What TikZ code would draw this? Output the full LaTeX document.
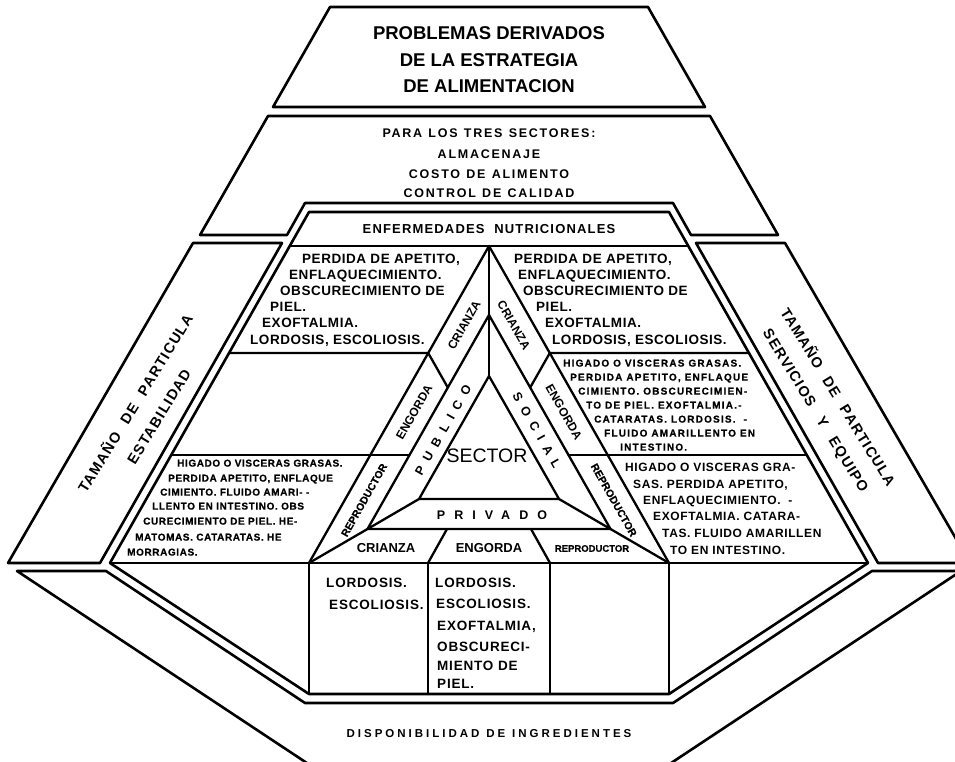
\documentclass[tikz,border=0pt]{standalone}
\usepackage{fontspec}
\setmainfont{Liberation Sans}
% wider gaps between words
\newcommand\wsp[1]{\spaceskip #1\relax}
\newcommand\gap{\hspace{12pt}}
\tikzset{
  panel/.style={draw=black, line width=2.6pt, line join=round},
  rule/.style={draw=black, line width=2.3pt, line cap=round, line join=round},
  lbl/.style={inner sep=0pt, text depth=0pt},
  ttl/.style={lbl, text height=13.4pt, font=\bfseries\fontsize{18.5}{20}\selectfont},
  hdr/.style={lbl, text height=9pt, font=\bfseries\fontsize{12.5}{14}\selectfont\addfontfeatures{LetterSpace=14}\wsp{0.5em}},
  big/.style={lbl, anchor=west, text height=9.6pt, font=\bfseries\fontsize{13.5}{15}\selectfont\addfontfeatures{LetterSpace=4}},
  midtxt/.style={lbl, anchor=west, text height=8.6pt, font=\bfseries\fontsize{12}{14}\selectfont\addfontfeatures{LetterSpace=5}},
  smallR/.style={lbl, anchor=west, text height=7.2pt, font=\bfseries\fontsize{10}{12}\selectfont\addfontfeatures{LetterSpace=12,FakeBold=0.6}},
  smallL/.style={lbl, anchor=west, text height=7.2pt, font=\bfseries\fontsize{10}{12}\selectfont\addfontfeatures{LetterSpace=6,FakeBold=0.6}},
  boxtxt/.style={lbl, anchor=west, text height=9.6pt, font=\bfseries\fontsize{13.5}{15}\selectfont\addfontfeatures{LetterSpace=6}},
  bandtxt/.style={lbl, text height=8.6pt, font=\bfseries\fontsize{12}{14}\selectfont},
  reprotxt/.style={lbl, text height=7.5pt, font=\bfseries\fontsize{10.5}{12}\selectfont\addfontfeatures{FakeBold=0.6}},
  spaced/.style={lbl, text height=9pt, font=\bfseries\fontsize{12.5}{14}\selectfont\addfontfeatures{LetterSpace=60}},
  sidetxt/.style={lbl, text height=10.4pt, font=\bfseries\fontsize{14.5}{16}\selectfont\addfontfeatures{LetterSpace=8}},
}
\begin{document}
\begin{tikzpicture}[x=1pt,y=-1pt]
\useasboundingbox (0,0) rectangle (955,761);
\fill[white] (0,0) rectangle (955,761);
\clip (0,0) rectangle (955,761);

% ---------- outer panels ----------
\draw[panel] (330,7) -- (648,7) -- (705,107) -- (273,107) -- cycle;
\draw[panel] (268,116) -- (710,116) -- (778,235) -- (691,235) -- (673,203)
  -- (305,203) -- (287,235) -- (200,235) -- cycle;
\draw[panel] (193,243) -- (282,243) -- (100,563) -- (8,563) -- cycle;
\draw[panel] (785,243) -- (696,243) -- (878,563) -- (970,563) -- cycle;
\draw[panel] (17,571) -- (106,571) -- (305,703) -- (673,703) -- (872,571)
  -- (961,571) -- (653,775) -- (325,775) -- cycle;

% ---------- central hexagon ----------
\draw[panel] (309,212) -- (669,212) -- (868,563) -- (669,694) -- (309,694)
  -- (110,563) -- cycle;

% key points of the nested triangles
\coordinate (A0) at (489,246);
\coordinate (A1) at (489,315);
\coordinate (A2) at (489,376);
\coordinate (OL) at (309,563);
\coordinate (OR) at (669,563);
\coordinate (ML) at (367.5,529);
\coordinate (MR) at (610.5,529);
\coordinate (IL) at (419,499);
\coordinate (IR) at (559,499);

\draw[rule] (290,246) -- (688,246);
\draw[rule] (110,563) -- (868,563);
\draw[rule] (OL) -- (A0) -- (OR);
\draw[rule] (A0) -- (A2);
\draw[rule] (ML) -- (A1) -- (MR) -- cycle;
\draw[rule] (IL) -- (A2) -- (IR) -- cycle;
\draw[rule] (OL) -- (ML) -- (IL);
\draw[rule] (OR) -- (MR) -- (IR);
\draw[rule] (428,563) -- (447,529);
\draw[rule] (550,563) -- (531,529);
% cell divisions
\draw[rule] (229,353) -- (428.2,353) -- (447.8,387.5);
\draw[rule] (749,353) -- (549.8,353) -- (530.2,387.5);
\draw[rule] (171.2,455) -- (409.5,455);
\draw[rule] (806.8,455) -- (568.5,455);
% lower box columns
\draw[rule] (309,563) -- (309,694);
\draw[rule] (428,563) -- (428,694);
\draw[rule] (550,563) -- (550,694);
\draw[rule] (669,563) -- (669,694);

% ---------- titles ----------
\node[ttl] (ta) at (489,33) {PROBLEMAS DERIVADOS};
\node[ttl] (tb) at (489,60) {DE LA ESTRATEGIA};
\node[ttl] (tc) at (489,86) {DE ALIMENTACION};

\node[hdr] (sa) at (489,133) {PARA LOS TRES SECTORES:};
\node[hdr] (sb) at (489,154) {ALMACENAJE};
\node[hdr] (sc) at (489,174) {COSTO DE ALIMENTO};
\node[hdr] (sd) at (489,193) {CONTROL DE CALIDAD};

\node[hdr, font=\bfseries\fontsize{13}{15}\selectfont\addfontfeatures{LetterSpace=9}\wsp{0.75em}, text height=9.3pt]
  (enf) at (489,229) {ENFERMEDADES NUTRICIONALES};

\node[hdr, font=\bfseries\fontsize{11.5}{13}\selectfont\addfontfeatures{LetterSpace=26}\wsp{0.6em}, text height=8.2pt]
  (disp) at (489,733) {DISPONIBILIDAD DE INGREDIENTES};

% ---------- side panels ----------
\node[sidetxt, rotate=58.5] (lsa) at (135.5,403.5) {TAMAÑO\gap DE\gap PARTICULA};
\node[sidetxt, rotate=58.5] (lsb) at (159,416.5) {ESTABILIDAD};
\node[sidetxt, rotate=-58.5] (rsa) at (838,397) {TAMAÑO\gap DE\gap PARTICULA};
\node[sidetxt, rotate=-58.5] (rsb) at (816,410.5) {SERVICIOS\hspace{9pt} Y\hspace{9pt} EQUIPO};

% ---------- upper cells ----------
\node[big] (l1) at (302,259) {PERDIDA DE APETITO,};
\node[big] (l2) at (289,275) {ENFLAQUECIMIENTO.};
\node[big] (l3) at (280,291) {OBSCURECIMIENTO DE};
\node[big] (l4) at (270,307) {PIEL.};
\node[big] (l5) at (262,323) {EXOFTALMIA.};
\node[big] (l6) at (250,340) {LORDOSIS, ESCOLIOSIS.};

\node[big] (r1) at (514,259) {PERDIDA DE APETITO,};
\node[big] (r2) at (518,275) {ENFLAQUECIMIENTO.};
\node[big] (r3) at (523,291) {OBSCURECIMIENTO DE};
\node[big] (r4) at (536,307) {PIEL.};
\node[big] (r5) at (545,323) {EXOFTALMIA.};
\node[big] (r6) at (552,340) {LORDOSIS, ESCOLIOSIS.};

% ---------- right middle cell ----------
\node[smallR] (m1) at (563,363) {HIGADO O VISCERAS GRASAS.};
\node[smallR] (m2) at (570,377) {PERDIDA APETITO, ENFLAQUE};
\node[smallR] (m3) at (578,391) {CIMIENTO. OBSCURECIMIEN-};
\node[smallR] (m4) at (586,405) {TO DE PIEL. EXOFTALMIA.-};
\node[smallR] (m5) at (594,419) {CATARATAS. LORDOSIS.\ \ -};
\node[smallR] (m6) at (604,433) {FLUIDO AMARILLENTO EN};
\node[smallR] (m7) at (620,447) {INTESTINO.};

% ---------- right lower cell ----------
\node[midtxt] (n1) at (625,467) {HIGADO O VISCERAS GRA-};
\node[midtxt] (n2) at (633,484) {SAS. PERDIDA APETITO,};
\node[midtxt] (n3) at (643,500) {ENFLAQUECIMIENTO.\ \ -};
\node[midtxt] (n4) at (653,516) {EXOFTALMIA. CATARA-};
\node[midtxt] (n5) at (662,533) {TAS. FLUIDO AMARILLEN};
\node[midtxt] (n6) at (670,550) {TO EN INTESTINO.};

% ---------- left lower cell ----------
\node[smallL] (k1) at (177,463) {HIGADO O VISCERAS GRASAS.};
\node[smallL] (k2) at (168,478) {PERDIDA APETITO, ENFLAQUE};
\node[smallL] (k3) at (160,492) {CIMIENTO. FLUIDO AMARI- -};
\node[smallL] (k4) at (152,506) {LLENTO EN INTESTINO. OBS};
\node[smallL] (k5) at (143,521) {CURECIMIENTO DE PIEL. HE-};
\node[smallL] (k6) at (135,537) {MATOMAS. CATARATAS. HE};
\node[smallL] (k7) at (127,552) {MORRAGIAS.};

% ---------- bottom boxes ----------
\node[boxtxt] (b1) at (326,583) {LORDOSIS.};
\node[boxtxt] (b2) at (329,605) {ESCOLIOSIS.};
\node[boxtxt] (c1) at (435,583) {LORDOSIS.};
\node[boxtxt] (c2) at (436,604) {ESCOLIOSIS.};
\node[boxtxt] (c3) at (437,626) {EXOFTALMIA,};
\node[boxtxt] (c4) at (437,647) {OBSCURECI-};
\node[boxtxt] (c5) at (437,666) {MIENTO DE};
\node[boxtxt] (c6) at (437,684) {PIEL.};

% ---------- triangle bands ----------
\node[bandtxt, rotate=60.4] (lcr) at (464,325) {CRIANZA};
\node[bandtxt, rotate=60.4] (len) at (414,412) {ENGORDA};
\node[reprotxt, rotate=60.4] (lre) at (364,500) {REPRODUCTOR};
\node[bandtxt, rotate=-60.4] (rcr) at (514,325) {CRIANZA};
\node[bandtxt, rotate=-60.4] (ren) at (564,412) {ENGORDA};
\node[reprotxt, rotate=-60.4] (rre) at (614,500) {REPRODUCTOR};

\node[spaced, rotate=60.4] (pub) at (443,430) {PUBLICO};
\node[spaced, rotate=-60.4] (soc) at (537,430) {SOCIAL};
\node[spaced, font=\bfseries\fontsize{12.5}{14}\selectfont\addfontfeatures{LetterSpace=72}] (pri) at (492,515) {PRIVADO};
\node[lbl, text height=14pt, font=\fontsize{19.5}{21}\selectfont] (sec) at (487,455) {SECTOR};

\node[bandtxt, font=\bfseries\fontsize{13}{15}\selectfont, text height=9.3pt] (bcr) at (386,548) {CRIANZA};
\node[bandtxt, font=\bfseries\fontsize{13}{15}\selectfont, text height=9.3pt] (ben) at (489,548) {ENGORDA};
\node[reprotxt, font=\bfseries\fontsize{9.5}{11}\selectfont\addfontfeatures{FakeBold=0.6}] (bre) at (592,548) {REPRODUCTOR};
\end{tikzpicture}
\end{document}
